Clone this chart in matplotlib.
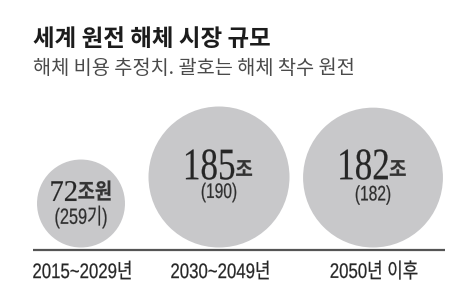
import matplotlib
matplotlib.use('Agg')
import matplotlib.pyplot as plt
from matplotlib.patches import Circle, PathPatch
from matplotlib.textpath import TextPath
from matplotlib.font_manager import FontProperties
from matplotlib.transforms import Affine2D
import numpy as np

# data
periods = ['2015~2029년', '2030~2049년', '2050년 이후']
costs = [72, 185, 182]             # 해체 비용 (조원)
cost_units = ['조원', '조', '조']
plants = ['259기', '190', '182']   # 해체 착수 원전 수

title = '세계 원전 해체 시장 규모'
subtitle = '해체 비용 추정치. 괄호는 해체 착수 원전'

KR = 'Noto Sans CJK KR'
plt.rcParams['font.family'] = [KR, 'DejaVu Sans']
TXT = '#262626'


def squeezed(ax, s, x, y, size, family, sx=1.0, color=TXT, ha='center', weight='normal'):
    """Draw text as a path (pixel units), squeezed horizontally by sx.
    y is the vertical centre of the glyph box."""
    path = TextPath((0, 0), s, size=size, prop=FontProperties(family=family, weight=weight))
    ext = path.get_extents()
    w = ext.width * sx
    if ha == 'center':
        tx = x - sx * (ext.x0 + ext.x1) / 2
    else:
        tx = x - sx * ext.x0
    ty = y + (ext.y0 + ext.y1) / 2
    tr = Affine2D().scale(sx, -1).translate(tx, ty)
    ax.add_patch(PathPatch(tr.transform_path(path), facecolor=color,
                           edgecolor=color, lw=0.15))
    return w


def width_of(s, size, family, sx, weight='normal'):
    p = TextPath((0, 0), s, size=size, prop=FontProperties(family=family, weight=weight))
    return p.get_extents().width * sx


fig = plt.figure(figsize=(4.67, 2.86), dpi=100)
ax = fig.add_axes([0, 0, 1, 1])
ax.set_xlim(0, 467)
ax.set_ylim(286, 0)
ax.set_aspect('equal')
ax.axis('off')

fig.text(33 / 467, 1 - 39 / 286, title, fontsize=16.9, fontweight='bold',
         color='#1c1c1c', va='center', ha='left', family=[KR])
fig.text(33 / 467, 1 - 69 / 286, subtitle, fontsize=14.2,
         color='#4a4a4a', va='center', ha='left', family=[KR])

centers = [81, 219, 373]
baseline = 250
k = 70.5 / np.sqrt(185)

ax.plot([33, 445], [baseline, baseline], color='#555555', lw=1.6,
        solid_capstyle='butt')

SERIF = ['Liberation Serif']
SANS = ['Liberation Sans', KR]
sub_ys = [217, 192.5, 195]

for i, (cx, v) in enumerate(zip(centers, costs)):
    r = k * np.sqrt(v)
    cy = baseline - 2.5 - r
    ax.add_patch(Circle((cx, cy), r, facecolor='#c8c8ca', edgecolor='none'))

    if i == 0:
        num_size, num_sx, num_y = 30, 0.95, 191
        unit_size, unit_sx, unit_y = 22, 0.85, 190.5
        sub_size = 22
    else:
        num_size, num_sx, num_y = 45, 0.78, 164.5
        unit_size, unit_sx, unit_y = 21, 0.9, 168
        sub_size = 21

    # number and unit, centred together
    w_num = width_of(str(v), num_size, SERIF, num_sx)
    w_unit = width_of(cost_units[i], unit_size, [KR], unit_sx, 'bold')
    x0 = cx - (w_num + 2 + w_unit) / 2
    squeezed(ax, str(v), x0, num_y, num_size, SERIF, sx=num_sx, ha='left')
    squeezed(ax, cost_units[i], x0 + w_num + 2, unit_y, unit_size, [KR],
             sx=unit_sx, ha='left', weight='bold', color='#333333')

    squeezed(ax, '(' + plants[i] + ')', cx, sub_ys[i], sub_size, SANS,
             sx=0.74, color='#2e2e2e')

    squeezed(ax, periods[i], cx + 1, 270, 21, SANS, sx=0.8)

fig.savefig('out.png', dpi=100)
